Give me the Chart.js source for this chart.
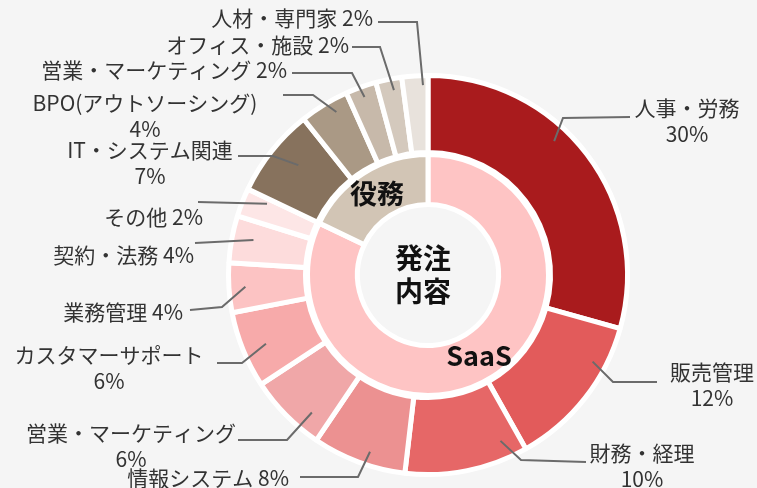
<!DOCTYPE html>
<html lang="ja">
<head>
<meta charset="UTF-8">
<title>発注内容</title>
<script src="https://cdn.jsdelivr.net/npm/chart.js@4.4.1/dist/chart.umd.min.js"></script>
<style>
    html, body { margin: 0; padding: 0; background: #f5f5f5; }
    #wrap { width: 757px; height: 488px; position: relative; overflow: hidden; }
</style>
</head>
<body>
<div id="wrap"><canvas id="orderChart" width="757" height="488"></canvas></div>
<script>
// outer ring: categories (clockwise from top)
const categories = [
    "人事・労務", "販売管理", "財務・経理", "情報システム", "営業・マーケティング",
    "カスタマーサポート", "業務管理", "契約・法務", "その他",
    "IT・システム関連", "BPO(アウトソーシング)", "営業・マーケティング", "オフィス・施設", "人材・専門家"
];
const shares = [29.3, 12.5, 10.0, 7.6, 6.3, 6.2, 4.0, 3.8, 2.3, 7.2, 4.0, 2.5, 2.1, 2.1];
const shareLabels = ["30%", "12%", "10%", "8%", "6%", "6%", "4%", "4%", "2%", "7%", "4%", "2%", "2%", "2%"];

// inner ring: groups
const groupNames = ["SaaS", "役務"];
const groupShares = [82.0, 17.9];

const categoryColors = [
    "#a91b1d", "#e25b5b", "#e66767", "#ec9191", "#f0a7a8",
    "#f7aaaa", "#fcc3c3", "#fddcdc", "#fde6e6",
    "#87725d", "#aa9985", "#c7b9aa", "#d4c9bd", "#e8e2dc"
];
const groupColors = ["#fec4c4", "#d2c5b5"];

// label placement: where the leader starts inside the slice (t along the slice, r from centre),
// the elbow / end of the leader, and where the text goes
const labelLayout = [
    { t: 0.41, r: 184, elbow: [563, 118], end: [630, 117], text: [687, 108], align: "center", wrap: true },
    { t: 0.27, r: 186, elbow: [613, 382], end: [657, 382], text: [712, 372], align: "center", wrap: true },
    { t: 0.16, r: 181, elbow: [521, 460], end: [586, 462], text: [642, 453], align: "center", wrap: true },
    { t: 0.42, r: 186, elbow: [358, 477], end: [300, 477], text: [289, 478], align: "right", wrap: false },
    { t: 0.27, r: 180, elbow: [287, 440], end: [238, 440], text: [131, 433], align: "center", wrap: true },
    { t: 0.46, r: 176, elbow: [242, 363], end: [217, 363], text: [109, 355], align: "center", wrap: true },
    { t: 0.50, r: 183, elbow: [222, 307], end: [190, 310], text: [183, 312], align: "right", wrap: false },
    { t: 0.57, r: 178, elbow: null, end: [195, 243], text: [194, 255], align: "right", wrap: false },
    { t: 0.80, r: 176, elbow: null, end: [198, 202], text: [203, 217], align: "right", wrap: false },
    { t: 0.57, r: 170, elbow: [273, 156], end: [238, 156], text: [150, 150], align: "center", wrap: true },
    { t: 0.64, r: 187, elbow: [313, 95], end: [283, 95], text: [145, 103], align: "center", wrap: true },
    { t: 0.50, r: 189, elbow: [352, 73], end: [292, 73], text: [287, 70], align: "right", wrap: false },
    { t: 0.62, r: 188, elbow: [380, 47], end: [352, 47], text: [349, 45], align: "right", wrap: false },
    { t: 0.80, r: 190, elbow: [417, 22], end: [378, 22], text: [373, 18], align: "right", wrap: false }
];

const FONT = "'Noto Sans CJK JP', 'Noto Sans', sans-serif";

document.addEventListener("DOMContentLoaded", function () {
    const ctx = document.getElementById("orderChart").getContext("2d");

    const labelPlugin = {
        id: "sliceLabels",
        afterDatasetsDraw(chart) {
            const c = chart.ctx;
            const outerMeta = chart.getDatasetMeta(0);
            const innerMeta = chart.getDatasetMeta(2);
            c.save();

            // leader lines + outer labels
            outerMeta.data.forEach((arc, i) => {
                const lay = labelLayout[i];
                const p = arc.getProps(["x", "y", "startAngle", "endAngle"], true);
                const a = p.startAngle + (p.endAngle - p.startAngle) * lay.t;
                const sx = p.x + Math.cos(a) * lay.r;
                const sy = p.y + Math.sin(a) * lay.r;

                c.strokeStyle = "#6b6b6b";
                c.lineWidth = 2;
                c.beginPath();
                c.moveTo(sx, sy);
                if (lay.elbow) c.lineTo(lay.elbow[0], lay.elbow[1]);
                c.lineTo(lay.end[0], lay.end[1]);
                c.stroke();

                c.fillStyle = "#333";
                c.font = "21px " + FONT;
                c.textBaseline = "middle";
                c.textAlign = lay.align;
                if (lay.wrap) {
                    c.fillText(categories[i], lay.text[0], lay.text[1]);
                    c.fillText(shareLabels[i], lay.text[0], lay.text[1] + 26);
                } else {
                    c.fillText(categories[i] + " " + shareLabels[i], lay.text[0], lay.text[1]);
                }
            });

            // group names on the inner ring
            c.fillStyle = "#111";
            c.textAlign = "center";
            c.textBaseline = "middle";
            innerMeta.data.forEach((arc, i) => {
                const pt = arc.getCenterPoint(true);
                c.font = "bold 27px " + FONT;
                c.fillText(groupNames[i], pt.x, pt.y);
            });

            // centre title
            const cx = innerMeta.data[0].x - 5;
            const cy = innerMeta.data[0].y;
            c.font = "bold 28px " + FONT;
            c.fillText("発注", cx, cy - 17);
            c.fillText("内容", cx, cy + 16);

            c.restore();
        }
    };

    new Chart(ctx, {
        type: "doughnut",
        data: {
            labels: categories,
            datasets: [
                {
                    data: shares,
                    backgroundColor: categoryColors,
                    borderColor: "#ffffff",
                    borderWidth: 5,
                    weight: 77
                },
                {
                    data: [1],
                    backgroundColor: "#ffffff",
                    borderWidth: 0,
                    weight: 2
                },
                {
                    data: groupShares,
                    backgroundColor: groupColors,
                    borderColor: "#ffffff",
                    borderWidth: 5,
                    weight: 50
                }
            ]
        },
        options: {
            responsive: false,
            animation: false,
            events: [],
            radius: 199.5,
            cutout: "35.34%",
            layout: { padding: { left: 109, right: 10, top: 72, bottom: 10 } },
            plugins: {
                legend: { display: false },
                tooltip: { enabled: false }
            }
        },
        plugins: [labelPlugin]
    });
});
</script>
</body>
</html>
